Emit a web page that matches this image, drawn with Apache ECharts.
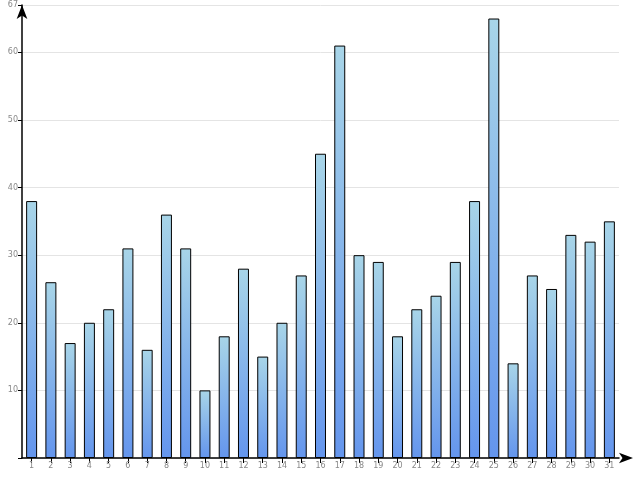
<!DOCTYPE html>
<html>
<head>
<meta charset="utf-8">
<script src="https://cdn.jsdelivr.net/npm/echarts@6/dist/echarts.min.js"></script>
<style>html,body{margin:0;padding:0;background:#fff}#chart{width:640px;height:480px}</style>
</head>
<body>
<div id="chart"></div>
<script>
var days = [];
for (var i = 1; i <= 31; i++) days.push(String(i));
var values = [38,26,17,20,22,31,16,36,31,10,18,28,15,20,27,45,61,30,29,18,22,24,29,38,65,14,27,25,33,32,35];

var option = {
	backgroundColor:'#FFF',
	animation:false,
	grid:{left:22,right:21,top:5,bottom:22},
	xAxis:{
		type:'category',
		data:days,
		axisLine:{lineStyle:{color:'#000',width:1.5},symbol:['none','arrow'],symbolSize:[8,14],symbolOffset:[0,14]},
		axisTick:{show:true,alignWithLabel:true,lineStyle:{color:'#000'}},
		axisLabel:{color:'#888',fontSize:8,fontFamily:'DejaVu Sans',margin:4}
	},
	yAxis:{
		type:'value',
		min:0,max:67,interval:10,
		axisLine:{show:true,lineStyle:{color:'#000',width:1.5},symbol:['none','arrow'],symbolSize:[8,14]},
		axisTick:{show:true,length:4,lineStyle:{color:'#000'}},
		axisLabel:{color:'#888',fontSize:8,fontFamily:'DejaVu Sans',margin:4,
			formatter:function(v){return v===0?'':v;}},
		splitLine:{lineStyle:{color:'#e4e4e4'}}
	},
	series:[{
		type:'bar',
		data:values,
		barWidth:'57%',
		itemStyle:{
			borderColor:'#000',borderWidth:1,
			color:new echarts.graphic.LinearGradient(0,0,0,1,[
				{offset:0,color:'#a8d5e8'},{offset:1,color:'#6495ed'}])
		}
	}]
};
echarts.init(document.getElementById('chart')).setOption(option);
</script>
</body>
</html>
